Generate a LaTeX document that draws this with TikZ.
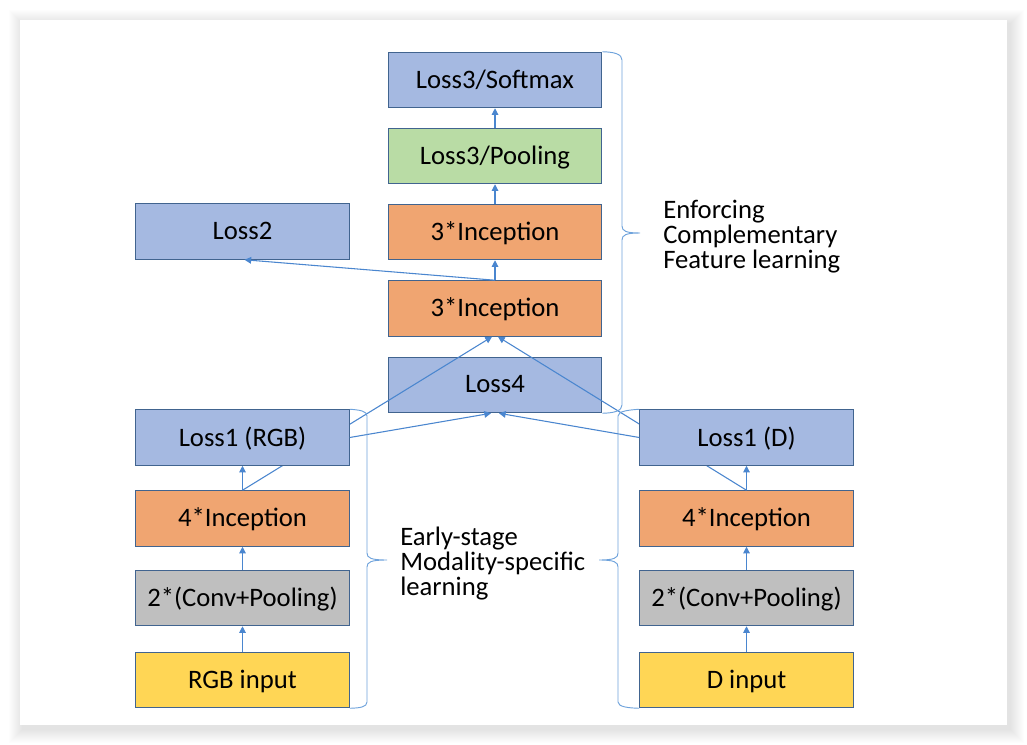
\documentclass[tikz,border=0pt]{standalone}
\usepackage{fontspec}
\setmainfont{Carlito}
\usetikzlibrary{arrows.meta,calc}
\pgfdeclarelayer{bg}
\pgfsetlayers{bg,main}
\definecolor{boxblue}{HTML}{A5B9E1}
\definecolor{boxorange}{HTML}{F0A571}
\definecolor{boxgreen}{HTML}{B9DCA5}
\definecolor{boxgray}{HTML}{BFBFBF}
\definecolor{boxyellow}{HTML}{FFD655}
\definecolor{edge}{HTML}{41648F}
\definecolor{arrowc}{HTML}{4A86CF}
\definecolor{bracec}{HTML}{6FA3DC}
\tikzset{
  blk/.style={draw=edge, line width=0.9pt, minimum width=160pt, minimum height=41.5pt,
    inner sep=0pt, text depth=1.5pt, font=\fontsize{20}{24}\selectfont},
  bluebox/.style={blk, fill=boxblue},
  orangebox/.style={blk, fill=boxorange},
  greenbox/.style={blk, fill=boxgreen},
  graybox/.style={blk, fill=boxgray},
  yellowbox/.style={blk, fill=boxyellow},
  arr/.style={draw=arrowc, line width=0.8pt, -{Triangle[length=5pt,width=5pt]}},
  brace/.style={draw=bracec, line width=0.7pt},
  lbl/.style={anchor=west, align=left, inner sep=0pt, font=\fontsize{20}{18.75}\selectfont}
}
\begin{document}
\begin{tikzpicture}[x=0.75pt,y=-0.75pt]
\useasboundingbox (0,0) rectangle (1027,745);
\begin{pgfonlayer}{bg}
  \fill[white] (0,0) rectangle (1027,745);
  \foreach \e in {1,...,14}{
    \fill[black, opacity=0.009] ($(20,20)+(-\e+3,-\e+4)$) rectangle ($(1007,725)+(\e+3,\e+4)$);
  }
  \fill[white] (20,20) rectangle (1007,725);
\end{pgfonlayer}

% center column
\node[bluebox]   (sm)    at (495,80)    {Loss3/Softmax};
\node[greenbox]  (pool)  at (495,156)   {Loss3/Pooling};
\node[orangebox] (inca)  at (495,232)   {3*Inception};
\node[orangebox] (incb)  at (495,308.5) {3*Inception};
\node[bluebox]   (loss4) at (495,385)   {Loss4};
\node[bluebox]   (loss2) at (242.5,231.5) {Loss2};
% lower parts of both columns
\node[orangebox] (ir)    at (242.5,518.5) {4*Inception};
\node[graybox]   (cr)    at (242.5,598)   {2*(Conv+Pooling)};
\node[yellowbox] (rgb)   at (242.5,680)   {RGB input};
\node[orangebox] (id)    at (746.5,518.5) {4*Inception};
\node[graybox]   (cd)    at (746.5,598)   {2*(Conv+Pooling)};
\node[yellowbox] (din)   at (746.5,680)   {D input};

% long connectors (pass behind the Loss1 boxes, over Loss4)
\draw[arr] (ir.north) -- ($(incb.south)+(-3,0)$);
\draw[arr] (id.north) -- ($(incb.south)+(3,0)$);

% Loss1 boxes drawn over the long connectors
\node[bluebox]   (lr)    at (242.5,437.5) {Loss1 (RGB)};
\node[bluebox]   (ld)    at (746.5,437.5) {Loss1 (D)};

% connectors
\draw[arr] (rgb.north) -- (cr.south);
\draw[arr] (cr.north) -- (ir.south);
\draw[arr] (ir.north) -- (lr.south);
\draw[arr] (din.north) -- (cd.south);
\draw[arr] (cd.north) -- (id.south);
\draw[arr] (id.north) -- (ld.south);
\draw[arr] (incb.north) -- (inca.south);
\draw[arr] (inca.north) -- (pool.south);
\draw[arr] (pool.north) -- (sm.south);
\draw[arr] (incb.north) -- ($(loss2.south)+(2,0)$);
\draw[arr] (lr.east) -- ($(loss4.south)+(-4,0)$);
\draw[arr] (ld.west) -- ($(loss4.south)+(4,0)$);

% braces
\coordinate (bt) at (sm.north east);
\coordinate (bb) at (loss4.south east);
\draw[brace] (bt) .. controls (614,52) and (622,54) .. (622,60) -- (622,226)
  .. controls (622,231) and (626,233) .. (640,233)
  .. controls (626,233) and (622,235) .. (622,240) -- (622,405)
  .. controls (622,411) and (614,413) .. (bb);
\draw[brace] (lr.north east) .. controls (360,410) and (367,411) .. (367,416) -- (367,553)
  .. controls (367,558) and (371,560) .. (387,560)
  .. controls (371,560) and (367,562) .. (367,567) -- (367,702)
  .. controls (367,707) and (360,708) .. (rgb.south east);
\draw[brace] (ld.north west) .. controls (629,410) and (618,411) .. (618,416) -- (618,553)
  .. controls (618,558) and (614,560) .. (599,560)
  .. controls (614,560) and (618,562) .. (618,567) -- (618,702)
  .. controls (618,707) and (629,708) .. (din.south east -| ld.west);

% labels
\node[lbl] (early) at (400,564) {Early-stage\\Modality-specific\\learning};
\node[lbl] (enf) at (663,237) {Enforcing\\Complementary\\Feature learning};
\end{tikzpicture}
\end{document}
